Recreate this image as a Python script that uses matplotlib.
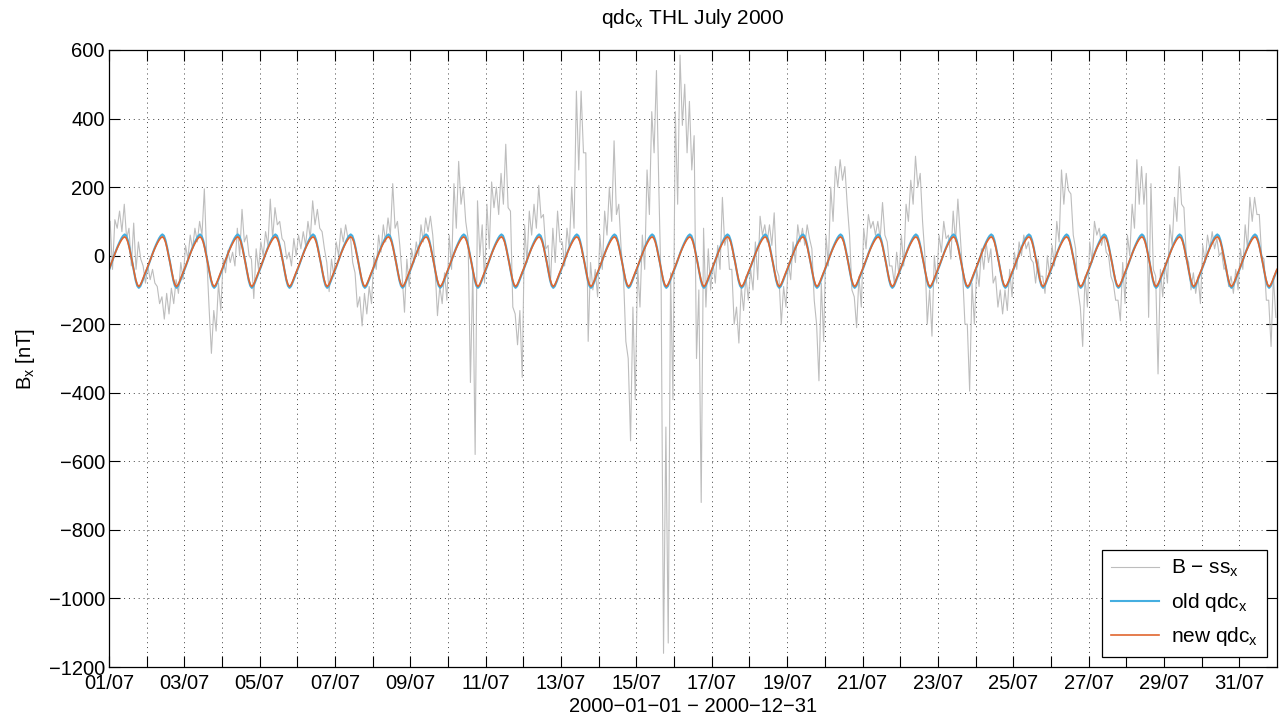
import numpy as np
import matplotlib.pyplot as plt

plt.rcParams['font.family'] = ['Liberation Sans', 'DejaVu Sans']
plt.rcParams['mathtext.default'] = 'regular'

# quiet-day curves, hourly values (UT 00..23) in nT, same curve every day
old_qdc_hourly = [-42, -30, -17, -4, 9, 21, 32, 42, 51, 58, 62, 58,
                  45, 25, 2, -22, -48, -72, -88, -94, -89, -78, -66, -54]
new_qdc_hourly = [-40, -28, -16, -4, 8, 19, 29, 38, 46, 52, 55, 51,
                  40, 22, 0, -23, -47, -69, -84, -90, -85, -75, -63, -51]

# B - ss, 3-hourly low / high envelope in nT (one row per day, 01/07 .. 31/07)
b_lo = [
    [-40, 80, 70, 50, -30, -40, -10, -80],
    [-70, -80, -140, -185, -170, -140, -110, -70],
    [-10, 20, 40, 60, 0, -285, -220, -160],
    [-50, -20, -30, 0, 40, 0, -125, -40],
    [0, 30, 50, 90, 50, -10, -30, 0],
    [20, 30, 50, 90, 80, 20, -105, -60],
    [0, 40, 50, -20, -150, -205, -170, -140],
    [-40, 10, 40, 60, 80, 30, -165, -90],
    [-20, 0, 40, 70, 60, -175, -140, -130],
    [-40, 80, 150, 100, -370, -580, 0, -80],
    [20, 140, 120, 150, 140, -150, -260, -355],
    [-20, 60, 80, 110, 20, -80, -20, 40],
    [-30, 20, 80, 250, 300, -250, -100, -120],
    [-40, 60, 100, 120, 20, -250, -540, -420],
    [-150, -40, 120, 300, 200, -1160, -1130, -420],
    [150, 380, 300, 250, -300, -720, -150, -100],
    [-80, -40, 30, -40, -200, -255, -160, -130],
    [-100, -70, 60, 40, 30, -40, -200, -150],
    [-70, -20, 40, 30, 50, -130, -365, -250],
    [-30, 100, 200, 220, 150, -100, -210, -150],
    [20, 80, 60, 50, 60, -30, -80, -60],
    [-30, 100, 150, 200, 100, -200, -235, -80],
    [10, 50, -10, 40, 60, -200, -395, -200],
    [-90, -40, -20, -80, -150, -170, -160, -120],
    [-40, 0, 20, -10, -80, -60, -110, -60],
    [-30, 40, 150, 190, 60, -100, -265, -150],
    [-20, 60, 30, 10, -60, -130, -190, -140],
    [0, 80, 150, 150, -180, -40, -345, -120],
    [-80, 30, 100, 150, 0, -100, -110, -140],
    [-20, 20, 20, 0, -40, -90, -110, -100],
    [-40, 20, 100, 120, 0, -130, -265, -180],
]
b_hi = [
    [100, 105, 130, 150, 80, 95, 40, -30],
    [-30, -40, -90, -120, -110, -95, -70, -20],
    [30, 60, 80, 100, 195, -150, -160, -80],
    [-10, 15, 10, 80, 135, 60, -10, 20],
    [40, 70, 165, 140, 100, 40, 10, 50],
    [60, 70, 100, 160, 135, 70, -20, -10],
    [40, 80, 90, 60, -50, -120, -110, -90],
    [0, 60, 90, 110, 210, 100, -60, -10],
    [20, 40, 90, 110, 115, -40, -90, -50],
    [60, 210, 275, 200, 50, -40, 160, 90],
    [150, 215, 200, 240, 325, 130, -170, -160],
    [90, 130, 150, 205, 120, 30, 80, 130],
    [40, 80, 200, 480, 480, 300, -20, -40],
    [60, 130, 200, 335, 150, -60, -300, -150],
    [-30, 60, 250, 420, 540, -100, -500, -50],
    [420, 585, 500, 450, 350, -100, 80, 20],
    [-20, 30, 170, 60, -40, -150, -90, -60],
    [-40, 40, 115, 90, 90, 125, -60, -90],
    [-20, 40, 90, 80, 90, 20, -200, -80],
    [60, 200, 260, 280, 260, 60, -120, -60],
    [80, 120, 100, 100, 155, 40, -30, 10],
    [60, 150, 220, 290, 240, 0, -100, 0],
    [60, 100, 60, 130, 165, -50, -200, -80],
    [-40, 20, 40, 20, -60, -100, -100, -40],
    [10, 40, 60, 40, -20, -10, -60, 0],
    [30, 100, 250, 240, 180, 20, -150, -60],
    [40, 100, 80, 60, 0, -80, -130, -20],
    [60, 150, 280, 260, 240, 210, -60, -40],
    [-20, 90, 170, 260, 140, -20, -50, -60],
    [30, 60, 70, 50, 10, -30, -60, -40],
    [20, 90, 170, 170, 120, -10, -130, -60],
]

day_labels = ['%02d/07' % (d + 1) if d % 2 == 0 else '' for d in range(31)]
yticks = list(range(-1200, 601, 200))

n_days = len(b_lo)

# gray trace: high then low inside each 3 h bin
lo = np.array(b_lo).ravel()
hi = np.array(b_hi).ravel()
t_bin = np.arange(lo.size) / 8.0
t_b = np.column_stack([t_bin + 0.75 / 24, t_bin + 2.25 / 24]).ravel()
y_b = np.column_stack([hi, lo]).ravel()

t_q = np.arange(n_days * 24 + 1) / 24.0
old_q = np.append(np.tile(old_qdc_hourly, n_days), old_qdc_hourly[0])
new_q = np.append(np.tile(new_qdc_hourly, n_days), new_qdc_hourly[0])

FS = 14.5

fig = plt.figure(figsize=(12.79, 7.18), dpi=100)
ax = fig.add_axes([0.0852, 0.071, 0.9132, 0.8594])

ax.plot(t_b, y_b, color='#bdbdbd', lw=0.8, label='B $-$ ss$_x$')
ax.plot(t_q, old_q, color='#45aee0', lw=1.5, label='old qdc$_x$')
ax.plot(t_q, new_q, color='#e0662f', lw=1.2, label='new qdc$_x$')

ax.set_xlim(0, n_days)
ax.set_ylim(-1200, 600)
ax.set_xticks(range(n_days))
ax.set_xticklabels(day_labels)
ax.set_yticks(yticks)
ax.tick_params(direction='in', length=8, width=0.8, top=True, right=True,
               labelsize=FS)
ax.tick_params(axis='x', pad=5)
ax.tick_params(axis='y', pad=3)
ax.grid(True, linestyle=(0, (1, 4)), color='0.25', lw=0.7)
for s in ax.spines.values():
    s.set_linewidth(0.9)

ax.set_title('qdc$_x$ THL July 2000', fontsize=FS + 0.5, pad=19)
ax.set_xlabel('2000\u221201\u221201 \u2212 2000\u221212\u221231', fontsize=FS, labelpad=3)
ax.set_ylabel('B$_x$ [nT]', fontsize=FS, labelpad=8)

leg = ax.legend(loc='lower right', fontsize=FS + 0.5, handlelength=2.3,
                fancybox=False, framealpha=1, edgecolor='black',
                labelspacing=0.55, borderaxespad=0.5, handletextpad=0.6)
leg.get_frame().set_linewidth(0.9)

fig.savefig('out.png', dpi=100, facecolor='white')
